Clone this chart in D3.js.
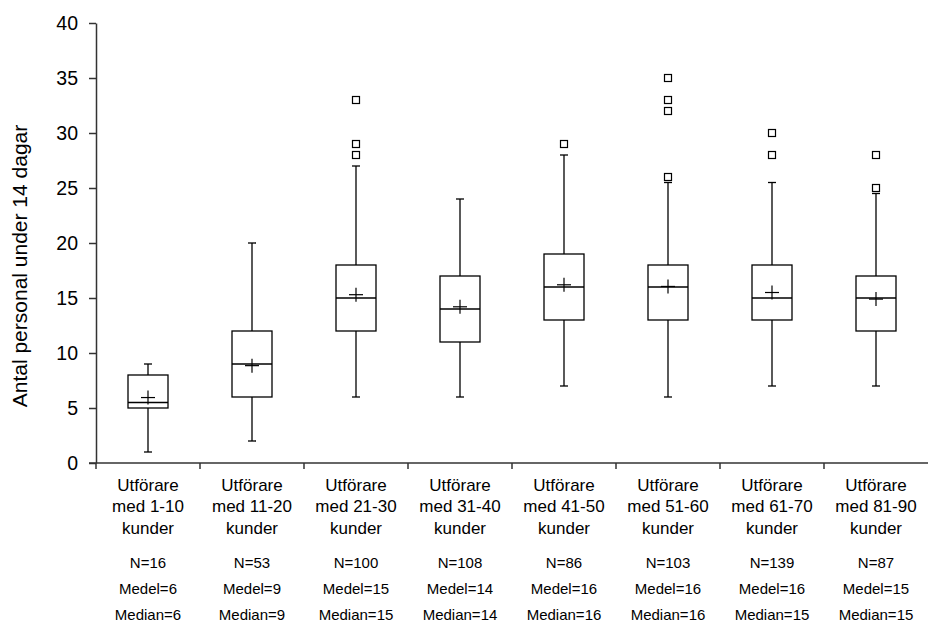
<!DOCTYPE html>
<html>
<head>
<meta charset="utf-8">
<script src="https://cdn.jsdelivr.net/npm/d3@7"></script>
<style>
  body { margin: 0; background: #fff; }
  text { font-family: Arial, "Liberation Sans", sans-serif; fill: #000; }
</style>
</head>
<body>
<svg id="chart"></svg>
<script>
const categories = ['1-10', '11-20', '21-30', '31-40', '41-50', '51-60', '61-70', '81-90'];
const nValues = [16, 53, 100, 108, 86, 103, 139, 87];
const medelLabels = [6, 9, 15, 14, 16, 16, 16, 15];
const medianLabels = [6, 9, 15, 14, 16, 16, 15, 15];

const whiskerLow = [1, 2, 6, 6, 7, 6, 7, 7];
const q1 = [5, 6, 12, 11, 13, 13, 13, 12];
const medians = [5.5, 9, 15, 14, 16, 16, 15, 15];
const q3 = [8, 12, 18, 17, 19, 18, 18, 17];
const whiskerHigh = [9, 20, 27, 24, 28, 25.5, 25.5, 24.5];
const means = [5.95, 8.85, 15.3, 14.2, 16.2, 16.05, 15.5, 14.9];
const outliers = [[], [], [28, 29, 33], [], [29], [26, 32, 33, 35], [28, 30], [25, 28]];

const yTicks = [0, 5, 10, 15, 20, 25, 30, 35, 40];

const width = 928;
const height = 623;
const margin = { top: 23, right: 0, bottom: 160, left: 96 };

const svg = d3.select('#chart').attr('width', width).attr('height', height);

const x = d3.scaleBand()
    .domain(categories)
    .range([margin.left, width - margin.right])
    .padding(0);

const y = d3.scaleLinear()
    .domain([0, 40])
    .range([height - margin.bottom, margin.top]);

const boxWidth = 40;
const capWidth = 8;
const plusSize = 7;
const sq = 7;

// y axis
const yAxis = svg.append('g')
    .attr('transform', `translate(${margin.left},0)`)
    .call(d3.axisLeft(y).tickValues(yTicks).tickSize(7).tickSizeOuter(0).tickPadding(11));
yAxis.select('.domain').attr('stroke', '#333').attr('stroke-width', 1.5);
yAxis.selectAll('.tick line').attr('stroke', '#333').attr('stroke-width', 1.5);
yAxis.selectAll('text').style('font-size', '19.5px').attr('fill', '#000');

// x axis line and ticks at band edges
const edges = categories.map(c => x(c));
svg.append('line')
    .attr('x1', margin.left - 7).attr('x2', width)
    .attr('y1', y(0)).attr('y2', y(0))
    .attr('stroke', '#333').attr('stroke-width', 1.5);
svg.selectAll('.xtick')
    .data(edges)
    .enter()
    .append('line')
    .attr('x1', d => d).attr('x2', d => d)
    .attr('y1', y(0)).attr('y2', y(0) + 6)
    .attr('stroke', '#333').attr('stroke-width', 1.5);

// axis title
svg.append('text')
    .attr('transform', `translate(27, 266) rotate(-90)`)
    .attr('text-anchor', 'middle')
    .style('font-size', '21px')
    .text('Antal personal under 14 dagar');

// boxes
const groups = svg.selectAll('.box')
    .data(categories)
    .enter()
    .append('g')
    .attr('class', 'box')
    .attr('transform', d => `translate(${x(d) + x.bandwidth() / 2},0)`);

groups.append('line')
    .attr('x1', 0).attr('x2', 0)
    .attr('y1', (d, i) => y(whiskerHigh[i])).attr('y2', (d, i) => y(q3[i]))
    .attr('stroke', '#000').attr('stroke-width', 1.3);
groups.append('line')
    .attr('x1', 0).attr('x2', 0)
    .attr('y1', (d, i) => y(q1[i])).attr('y2', (d, i) => y(whiskerLow[i]))
    .attr('stroke', '#000').attr('stroke-width', 1.3);
groups.append('line')
    .attr('x1', -capWidth / 2).attr('x2', capWidth / 2)
    .attr('y1', (d, i) => y(whiskerHigh[i])).attr('y2', (d, i) => y(whiskerHigh[i]))
    .attr('stroke', '#000').attr('stroke-width', 1.3);
groups.append('line')
    .attr('x1', -capWidth / 2).attr('x2', capWidth / 2)
    .attr('y1', (d, i) => y(whiskerLow[i])).attr('y2', (d, i) => y(whiskerLow[i]))
    .attr('stroke', '#000').attr('stroke-width', 1.3);

groups.append('rect')
    .attr('x', -boxWidth / 2)
    .attr('y', (d, i) => y(q3[i]))
    .attr('width', boxWidth)
    .attr('height', (d, i) => y(q1[i]) - y(q3[i]))
    .attr('fill', '#fff')
    .attr('stroke', '#000').attr('stroke-width', 1.3);

groups.append('line')
    .attr('x1', -boxWidth / 2).attr('x2', boxWidth / 2)
    .attr('y1', (d, i) => y(medians[i])).attr('y2', (d, i) => y(medians[i]))
    .attr('stroke', '#000').attr('stroke-width', 1.3);

// mean plus
groups.append('line')
    .attr('x1', -plusSize).attr('x2', plusSize)
    .attr('y1', (d, i) => y(means[i])).attr('y2', (d, i) => y(means[i]))
    .attr('stroke', '#000').attr('stroke-width', 1.2);
groups.append('line')
    .attr('x1', 0).attr('x2', 0)
    .attr('y1', (d, i) => y(means[i]) - plusSize).attr('y2', (d, i) => y(means[i]) + plusSize)
    .attr('stroke', '#000').attr('stroke-width', 1.2);

// outliers
groups.each(function (d, i) {
    d3.select(this).selectAll('.out')
        .data(outliers[i])
        .enter()
        .append('rect')
        .attr('x', -sq / 2)
        .attr('y', v => y(v) - sq / 2)
        .attr('width', sq).attr('height', sq)
        .attr('fill', '#fff')
        .attr('stroke', '#000').attr('stroke-width', 1.2);
});

// category labels
const labels = svg.selectAll('.catlabel')
    .data(categories)
    .enter()
    .append('g')
    .attr('transform', d => `translate(${x(d) + x.bandwidth() / 2},0)`);

labels.append('text').attr('y', 491).attr('text-anchor', 'middle').style('font-size', '17px').text('Utförare');
labels.append('text').attr('y', 512).attr('text-anchor', 'middle').style('font-size', '17px').text(d => `med ${d}`);
labels.append('text').attr('y', 534).attr('text-anchor', 'middle').style('font-size', '17px').text('kunder');
labels.append('text').attr('y', 568).attr('text-anchor', 'middle').style('font-size', '15px').text((d, i) => `N=${nValues[i]}`);
labels.append('text').attr('y', 594).attr('text-anchor', 'middle').style('font-size', '15px').text((d, i) => `Medel=${medelLabels[i]}`);
labels.append('text').attr('y', 620).attr('text-anchor', 'middle').style('font-size', '15px').text((d, i) => `Median=${medianLabels[i]}`);
</script>
</body>
</html>
